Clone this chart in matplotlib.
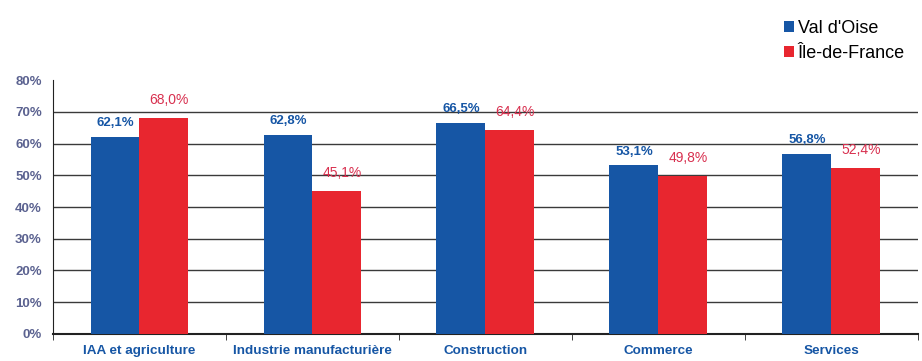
import numpy as np
import matplotlib.pyplot as plt

plt.rcParams['font.family'] = ['Liberation Sans', 'DejaVu Sans']

categories = ["IAA et agriculture", "Industrie manufacturière", "Construction",
              "Commerce", "Services"]
val_oise = [62.1, 62.8, 66.5, 53.1, 56.8]
idf = [68.0, 45.1, 64.4, 49.8, 52.4]
series_names = ["Val d'Oise", "Île-de-France"]

blue = "#1656a5"
red = "#e8262f"

fig = plt.figure(figsize=(9.22, 3.61), dpi=100)
ax = fig.add_axes([0.0575, 0.075, 0.938, 0.703])

x = np.arange(len(categories))
w = 0.283
b1 = ax.bar(x - w / 2, val_oise, w, color=blue, label=series_names[0], zorder=3)
b2 = ax.bar(x + w / 2, idf, w, color=red, label=series_names[1], zorder=3)

for xi, v in zip(x, val_oise):
    ax.text(xi - w / 2, v + 2.4, f"{v:.1f}%".replace(".", ","), ha="center",
            va="bottom", color=blue, fontsize=9.5, fontweight="bold", zorder=4)
for xi, v in zip(x, idf):
    ax.text(xi + w / 2 + 0.03, v + 3.4, f"{v:.1f}%".replace(".", ","), ha="center",
            va="bottom", color="#d8304f", fontsize=10, zorder=4)

ax.set_xlim(-0.5, len(categories) - 0.5)
ax.set_ylim(0, 80)
ax.set_yticks(np.arange(0, 81, 10))
ax.set_yticklabels([f"{t}%" for t in range(0, 81, 10)], color="#5b6290",
                   fontsize=9.5, fontweight="bold")
for t in range(10, 80, 10):
    ax.axhline(t, color="#3a3a3a", lw=1, zorder=1)

ax.set_xticks(x)
ax.set_xticklabels(categories, color=blue, fontsize=9.7, fontweight="bold")
ax.tick_params(axis="x", length=0, pad=8)
ax.tick_params(axis="y", length=0, pad=8)
ax.set_xticks(np.arange(-0.5, len(categories)), minor=True)
ax.tick_params(axis="x", which="minor", length=4, direction="out", color="#222")

for s in ["top", "right"]:
    ax.spines[s].set_visible(False)
ax.spines["left"].set_color("#222")
ax.spines["bottom"].set_color("#222")
ax.spines["bottom"].set_linewidth(1.5)

fig.legend(handles=[b1, b2], loc="upper right", bbox_to_anchor=(0.999, 0.99),
           frameon=False, fontsize=13, handlelength=0.55, handleheight=0.55,
           handletextpad=0.2, labelspacing=0.45)

fig.savefig("out.png", dpi=100)
